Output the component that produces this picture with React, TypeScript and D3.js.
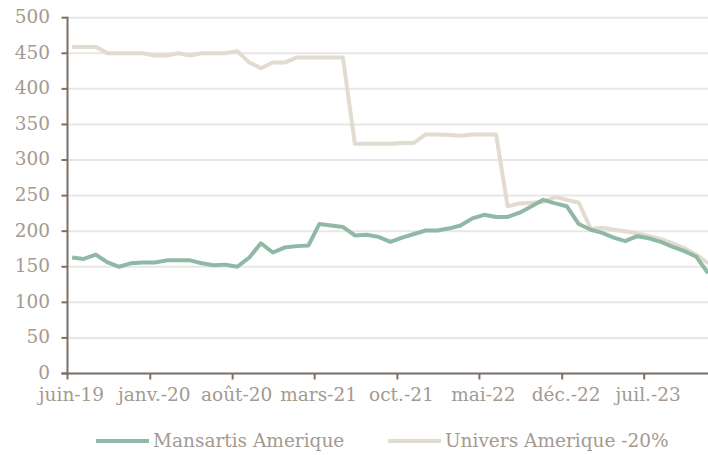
import React from 'react'
import * as d3 from 'd3'

// monthly values, juin-19 .. déc.-23
const mansartis = [
  163, 161, 167, 156, 150, 155, 156, 156, 159, 159, 159, 155, 152, 153, 150, 163,
  183, 170, 177, 179, 180, 210, 208, 206, 194, 195, 192, 185, 191, 196, 201, 201,
  204, 208, 218, 223, 220, 220, 226, 235, 244, 239, 235, 210, 202, 198, 191, 186,
  193, 190, 185, 178, 172, 164, 141
]
const univers = [
  459, 459, 459, 450, 450, 450, 450, 447, 447, 450, 447, 450, 450, 450, 453, 437,
  429, 437, 437, 444, 444, 444, 444, 444, 323, 323, 323, 323, 324, 324, 336, 336,
  335, 334, 336, 336, 336, 235, 239, 240, 241, 248, 244, 240, 203, 205, 202, 200,
  197, 193, 189, 183, 176, 167, 155
]
const tickLabels = ['juin-19', 'janv.-20', 'août-20', 'mars-21', 'oct.-21', 'mai-22', 'déc.-22', 'juil.-23']
const yTicks = [0, 50, 100, 150, 200, 250, 300, 350, 400, 450, 500]
const seriesNames = ['Mansartis Amerique', 'Univers Amerique -20%']
const colors = ['#8fb9a4', '#e1dbd0']

const width = 708
const height = 455
const margin = { top: 17.7, right: 0, bottom: 81.5, left: 67.5 }
const font = '"DejaVu Serif", Georgia, serif'
const fontSize = 18.5
const textColor = '#a39a92'
const axisColor = '#7b6f68'

const start = new Date(2019, 5, 1)
// points sit a little into each month
const dates = mansartis.map((_, i) => new Date(2019, 5 + i, 13))
const tickDates = d3.timeMonth.range(start, dates[dates.length - 1], 7)

const App = () => {
  const x = d3.scaleTime()
    .domain([start, dates[dates.length - 1]])
    .range([margin.left, width - margin.right])

  const y = d3.scaleLinear()
    .domain([0, 500])
    .range([height - margin.bottom, margin.top])

  const line = d3.line<number>()
    .x((_, i) => x(dates[i]))
    .y(d => y(d))

  const y0 = y(0)

  return (
    <svg width={width} height={height} style={{ position: 'absolute', left: 0, top: 0, background: '#fff' }}>
      {yTicks.filter(t => t > 0).map(t => (
        <line key={t} x1={margin.left} x2={width} y1={y(t)} y2={y(t)} stroke='#e7e7e7' strokeWidth={2} />
      ))}

      <path d={line(univers) || ''} fill='none' stroke={colors[1]} strokeWidth={4} strokeLinejoin='round' />
      <path d={line(mansartis) || ''} fill='none' stroke={colors[0]} strokeWidth={4} strokeLinejoin='round' />

      {/* y axis */}
      <line x1={margin.left} x2={margin.left} y1={y(500) - 1} y2={y0 + 1} stroke={axisColor} strokeWidth={2} />
      {yTicks.map(t => (
        <g key={t}>
          <line x1={margin.left - 6} x2={margin.left} y1={y(t)} y2={y(t)} stroke={axisColor} strokeWidth={2} />
          <text x={50} y={y(t) - 1} dy='0.35em' textAnchor='end' fontFamily={font} fontSize={fontSize} fill={textColor}>{t}</text>
        </g>
      ))}

      {/* x axis */}
      <line x1={margin.left - 6} x2={width} y1={y0} y2={y0} stroke={axisColor} strokeWidth={2} />
      {tickDates.map((d, i) => (
        <g key={i}>
          <line x1={x(d)} x2={x(d)} y1={y0} y2={y0 + 6} stroke={axisColor} strokeWidth={2} />
          <text x={x(d) + 4} y={401} textAnchor='middle' fontFamily={font} fontSize={fontSize} fill={textColor}>{tickLabels[i]}</text>
        </g>
      ))}

      {/* legend */}
      {seriesNames.map((name, i) => {
        const lx = i === 0 ? 96 : 388
        return (
          <g key={name}>
            <line x1={lx} x2={lx + 53} y1={441} y2={441} stroke={colors[i]} strokeWidth={4} />
            <text x={lx + 57} y={447} fontFamily={font} fontSize={fontSize} fill={textColor}>{name}</text>
          </g>
        )
      })}
    </svg>
  )
}

export default App
